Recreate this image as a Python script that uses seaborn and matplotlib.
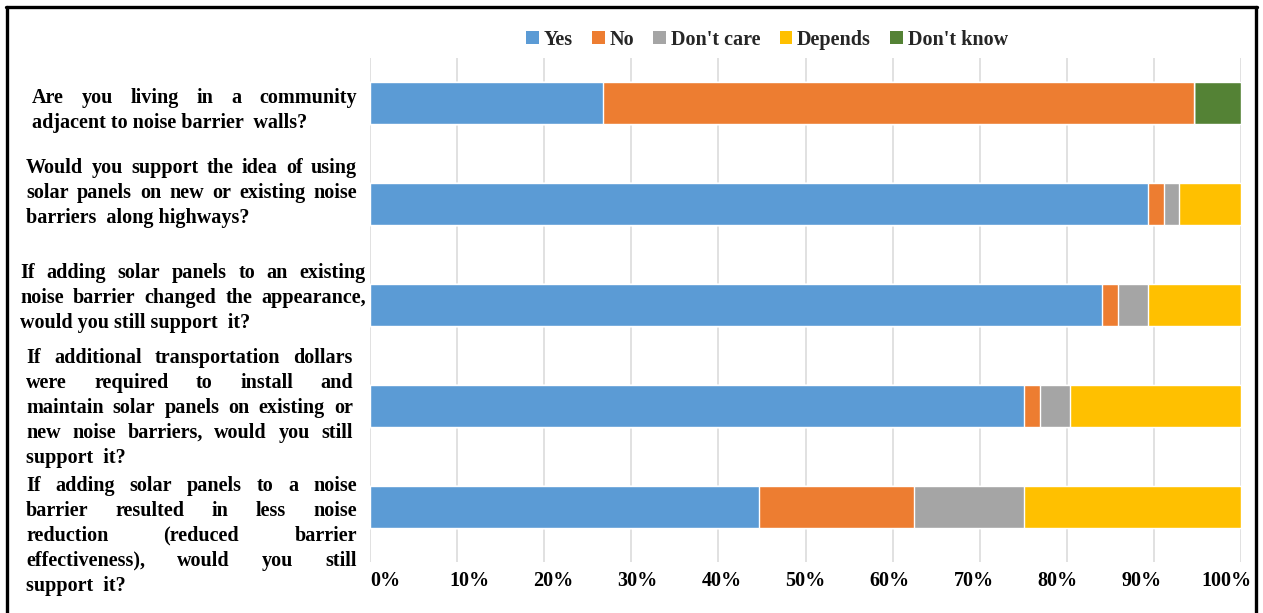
import matplotlib
matplotlib.use("Agg")
import matplotlib.pyplot as plt
from matplotlib.patches import Patch
from matplotlib.lines import Line2D
from matplotlib.transforms import IdentityTransform, ScaledTranslation
import numpy as np
import pandas as pd
import seaborn as sns

# Survey questions (one entry per line of the wrapped label)
questions = [
    ["Are you living in a community",
     "adjacent to noise barrier  walls?"],
    ["Would you support the idea of using",
     "solar panels on new or existing noise",
     "barriers  along highways?"],
    ["If adding solar panels to an existing",
     "noise barrier changed the appearance,",
     "would you still support  it?"],
    ["If additional transportation dollars",
     "were required to install and",
     "maintain solar panels on existing or",
     "new noise barriers, would you still",
     "support  it?"],
    ["If adding solar panels to a noise",
     "barrier resulted in less noise",
     "reduction (reduced barrier",
     "effectiveness), would you still",
     "support  it?"],
]

responses = ["Yes", "No", "Don't care", "Depends", "Don't know"]

# Share of answers per question, in percent
yes_pct        = [26.8, 89.3, 84.0, 75.1, 44.7]
no_pct         = [67.8, 1.9, 1.9, 1.8, 17.8]
dont_care_pct  = [0.0, 1.7, 3.4, 3.5, 12.6]
depends_pct    = [0.0, 7.1, 10.7, 19.6, 24.9]
dont_know_pct  = [5.4, 0.0, 0.0, 0.0, 0.0]

tick_values = [0, 10, 20, 30, 40, 50, 60, 70, 80, 90, 100]
tick_labels = ["0%", "10%", "20%", "30%", "40%", "50%",
               "60%", "70%", "80%", "90%", "100%"]

colors = ["#5B9BD5", "#ED7D31", "#A5A5A5", "#FFC000", "#548235"]

# Label layout (pixels): left/right edges of the justified block and vertical shift
label_left = [32, 26, 20, 26, 26]
label_right = [357, 357, 366, 353, 357]
label_shift = [5, -14, -10, -1, 26]
line_px = 25

sns.set_theme(style="white")
plt.rcParams["font.family"] = ["Liberation Serif", "DejaVu Serif"]
plt.rcParams["font.weight"] = "bold"

W, H, DPI = 1263, 613, 100
fig = plt.figure(figsize=(W / DPI, H / DPI), dpi=DPI)
ax = fig.add_axes([370 / W, 1 - 562 / H, (1241 - 370) / W, (562 - 58) / H])

qkeys = [" ".join(q) for q in questions]
table = pd.DataFrame({
    "question": qkeys,
    "Yes": yes_pct,
    "No": no_pct,
    "Don't care": dont_care_pct,
    "Depends": depends_pct,
    "Don't know": dont_know_pct,
})
cum = table[responses].cumsum(axis=1).assign(question=qkeys)

# Stacked bars: draw cumulative totals from the outermost segment inward
for resp, col in reversed(list(zip(responses, colors))):
    sns.barplot(data=cum, x=resp, y="question", orient="h", color=col,
                width=0.41, saturation=1, order=qkeys, ax=ax, zorder=2)

ax.set_xlim(0, 100)
ax.set_ylim(4.543, -0.4475)
ax.set_xticks(tick_values)
ax.set_xticklabels([])
ax.tick_params(axis="x", length=0)
ax.set_xlabel("")
ax.set_ylabel("")
ax.set_yticks([])
ax.grid(axis="x", color="#D9D9D9", linewidth=1.1, zorder=0)
ax.set_axisbelow(True)
for s in ax.spines.values():
    s.set_visible(False)

# Percentage labels under the gridlines, spaced slightly tighter than the grid
xtrans = ax.get_xaxis_transform()
for v, lab in zip(tick_values, tick_labels):
    dx = (15 - 0.3 * v) / DPI
    ax.text(v, 0, lab, transform=xtrans + ScaledTranslation(dx, -16 / DPI, fig.dpi_scale_trans),
            ha="center", va="center_baseline", fontsize=14.5, fontweight="bold",
            family="Liberation Serif", color="black")

# Legend across the top
handles = [Patch(facecolor=c, edgecolor="none", label=r) for r, c in zip(responses, colors)]
fig.legend(handles=handles, loc="center", bbox_to_anchor=(767 / W, 1 - 40 / H),
           ncol=5, frameon=False, handlelength=0.62, handleheight=0.62,
           handletextpad=0.25, columnspacing=0.95,
           prop={"family": "Liberation Serif", "weight": "bold", "size": 14.5})

# Justified question labels beside each bar
fig.canvas.draw()
renderer = fig.canvas.get_renderer()
font_kw = dict(fontsize=14.5, fontweight="bold", family="Liberation Serif",
               color="black", va="center_baseline", ha="left",
               transform=IdentityTransform())

for i, lines in enumerate(questions):
    yc = ax.transData.transform((0, i))[1] - label_shift[i]
    n = len(lines)
    top = yc + (n - 1) / 2 * line_px
    x0, x1 = label_left[i], label_right[i]
    for j, line in enumerate(lines):
        y = top - j * line_px
        words = line.split()
        if j == n - 1 or len(words) == 1:
            fig.text(x0, y, line, **font_kw)
            continue
        texts = [fig.text(0, y, w, **font_kw) for w in words]
        widths = [t.get_window_extent(renderer).width for t in texts]
        gap = (x1 - x0 - sum(widths)) / (len(words) - 1)
        x = x0
        for t, wd in zip(texts, widths):
            t.set_x(x)
            x += wd + gap

# Outer frame (left, top, right edges)
frame_kw = dict(color="black", linewidth=2.4, transform=IdentityTransform())
fig.add_artist(Line2D([7, 7], [-5, H - 7], **frame_kw))
fig.add_artist(Line2D([6, 1257], [H - 7, H - 7], **frame_kw))
fig.add_artist(Line2D([1256, 1256], [-5, H - 7], **frame_kw))

fig.savefig("out.png", dpi=DPI)
